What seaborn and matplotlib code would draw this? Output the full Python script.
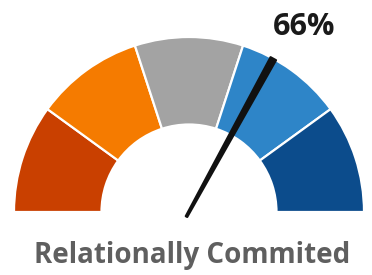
import numpy as np
import matplotlib
matplotlib.use("Agg")
import matplotlib.pyplot as plt
import seaborn as sns

# Data
segments = [20, 20, 20, 20, 20]          # five equal gauge bands (percent of the dial)
segment_colors = ["#C94000", "#F57B00", "#A3A3A3", "#2E85C8", "#0C4C8C"]
value = 66                               # needle value in percent
value_label = "66%"
title = "Relationally Commited"

sns.set_theme(style="white")
plt.rcParams['font.family'] = ['Open Sans', 'DejaVu Sans']

fig = plt.figure(figsize=(3.72, 2.75), dpi=100)
ax = fig.add_axes([0, 0, 1, 1])

palette = sns.color_palette(segment_colors)
vals = segments + [sum(segments)]
cols = list(palette) + [(1, 1, 1, 0)]
wedges, _ = ax.pie(vals, colors=cols, startangle=180, counterclock=False,
                   radius=1.0, wedgeprops=dict(width=0.5, edgecolor="white", linewidth=1.6))
wedges[-1].set_visible(False)

# needle
theta = np.pi * (1 - value / 100.0)
d = np.array([np.cos(theta), np.sin(theta)])
n = np.array([-d[1], d[0]])
r0, r1 = -0.03, 1.0
w0, w1 = 0.005, 0.018
base = d * r0
tip = d * r1
poly = np.array([base + n * w0, tip + n * w1, tip - n * w1, base - n * w0])
ax.fill(poly[:, 0], poly[:, 1], color="#111111", lw=1.5, ec="#111111", joinstyle="round", zorder=5)

ax.text(0.66, 1.011, value_label, ha="center", va="baseline", fontsize=22,
        fontweight="bold", color="#1a1a1a")
ax.text(0.017, -0.291, title, ha="center", va="baseline", fontsize=20,
        fontweight="bold", color="#5f5f5f")

ax.set_aspect("auto")
ax.set_xlim(-189 / 175, 183 / 175)
ax.set_ylim(-63 / 175, 212 / 175)
ax.axis("off")

fig.savefig("out.png", dpi=100)
